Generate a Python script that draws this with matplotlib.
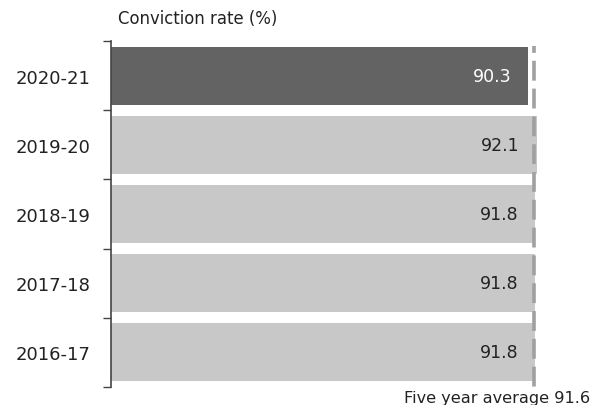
import matplotlib
matplotlib.use("Agg")
import matplotlib.pyplot as plt
import numpy as np

# Conviction rates by financial year (most recent first)
years = ["2020-21", "2019-20", "2018-19", "2017-18", "2016-17"]
rates = [90.3, 92.1, 91.8, 91.8, 91.8]
five_year_avg = 91.6

plt.rcParams["font.family"] = ["DejaVu Sans"]

W, H = 594, 406
fig = plt.figure(figsize=(W / 100, H / 100), dpi=100)

# axes: x=0 at px 111, 4.62 px per unit; rows span px 42..388
x0_px, scale = 111, 4.62
xmax = 100
ax = fig.add_axes([x0_px / W, 1 - 388 / H, xmax * scale / W, (388 - 42) / H])

ypos = np.arange(len(years))
colors = ["#636363"] + ["#c8c8c8"] * (len(years) - 1)
text_colors = ["white"] + ["#222222"] * (len(years) - 1)

ax.barh(ypos, rates, height=0.84, color=colors, edgecolor="none", zorder=2)
for y, v, tc in zip(ypos, rates, text_colors):
    ax.text(v - 3.7, y, f"{v:.1f}", ha="right", va="center", color=tc,
            fontsize=12.5, zorder=3)

ax.set_xlim(0, xmax)
ax.set_ylim(len(years) - 0.5, -0.5)

# five-year average reference line (dashes in units of line width)
ax.plot([five_year_avg, five_year_avg], [-0.43, len(years) - 0.5],
        color="#a0a0a0", lw=2.6, ls=(3.6, (5.5, 2.2)), clip_on=False, zorder=4,
        solid_capstyle="butt", dash_capstyle="butt")
fig.text(590 / W, 1 - 399 / H, f"Five year average {five_year_avg}",
         ha="right", va="center", fontsize=11.6, color="#222222")

# category labels, with separator ticks at row boundaries
ax.set_yticks(ypos)
ax.set_yticklabels(years, fontsize=13, color="#222222")
ax.tick_params(axis="y", which="major", length=0, pad=15)
ax.set_yticks(np.arange(-0.5, len(years)), minor=True)
ax.tick_params(axis="y", which="minor", length=6, width=1, color="#444444")
ax.set_xticks([])

for s in ["top", "right", "bottom"]:
    ax.spines[s].set_visible(False)
ax.spines["left"].set_color("#444444")
ax.spines["left"].set_linewidth(1.2)

fig.text(118 / W, 1 - 19 / H, "Conviction rate (%)", ha="left", va="center",
         fontsize=11.9, color="#222222")

fig.savefig("out.png", dpi=100)
